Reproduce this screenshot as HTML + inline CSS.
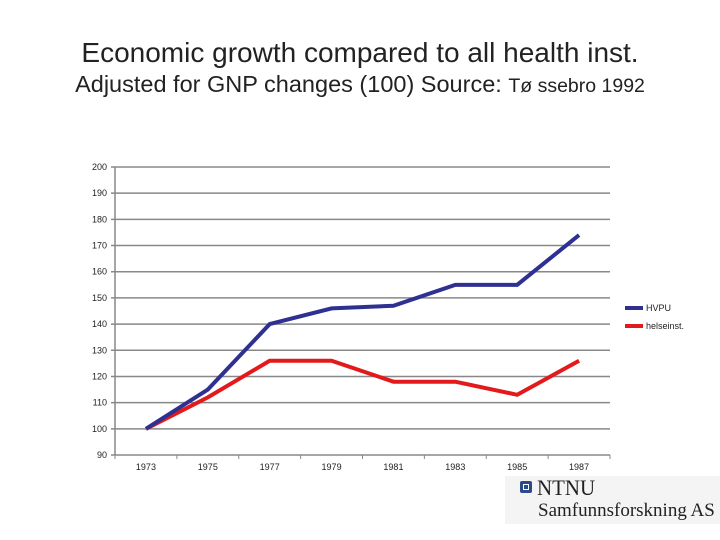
<!DOCTYPE html>
<html><head><meta charset="utf-8"><style>
body{margin:0;width:720px;height:540px;background:#fff;overflow:hidden;font-family:"Liberation Sans",sans-serif;position:relative}
.t{position:absolute;left:0;width:720px;text-align:center;color:#222}
</style></head><body>
<div class="t" style="top:37px;font-size:28px">Economic growth compared to all health inst.</div>
<div class="t" style="top:71px;font-size:23.5px">Adjusted for GNP changes (100) Source: <span style="font-size:19.5px">Tø ssebro 1992</span></div>
<svg id="c" width="720" height="540" style="position:absolute;left:0;top:0"></svg>
<div style="position:absolute;left:505px;top:476px;width:215px;height:48px;background:#f4f4f4">
<div style="position:absolute;left:15px;top:5px;width:12px;height:12px;background:#2a4a8a;border-radius:2px"><div style="position:absolute;left:3px;top:3px;width:4px;height:4px;border:1px solid #fff"></div></div>
<div style="position:absolute;left:32px;top:-1px;font-family:'Liberation Serif',serif;font-size:22px;color:#222;transform:scaleX(0.95);transform-origin:left">NTNU</div>
<div style="position:absolute;left:33px;top:24px;font-family:'Liberation Serif',serif;font-size:19px;color:#222">Samfunnsforskning AS</div>
</div>
<script>
const categories=["1973","1975","1977","1979","1981","1983","1985","1987"];
const hvpu=[100,115,140,146,147,155,155,174];
const helse=[100,112,126,126,118,118,113,126];
const yTicks=[90,100,110,120,130,140,150,160,170,180,190,200];
const NS="http://www.w3.org/2000/svg",svg=document.getElementById('c');
const L=115,R=610,T=167,B=455,yMin=90,yMax=200;
const y=v=>B-(v-yMin)/(yMax-yMin)*(B-T);
const bw=(R-L)/categories.length;
const x=i=>L+bw*(i+0.5);
function mk(t,a){const e=document.createElementNS(NS,t);for(const k in a)e.setAttribute(k,a[k]);svg.appendChild(e);return e;}
yTicks.forEach(v=>{
 const g=mk('line',{x1:L-4,x2:R,y1:y(v),y2:y(v),stroke:'#888','stroke-width':1.5});
 
 
 const t=mk('text',{x:L-8,y:y(v)+3,'text-anchor':'end','font-size':9,fill:'#222'});t.textContent=v;
 
 
});
const ax=mk('line',{x1:L,x2:L,y1:T,y2:B,stroke:'#888','stroke-width':1.5});


for(let i=0;i<=categories.length;i++){const k=mk('line',{x1:L+bw*i,x2:L+bw*i,y1:B,y2:B+4,stroke:'#888'});
 
 }
categories.forEach((c,i)=>{const t=mk('text',{x:x(i),y:B+15,'text-anchor':'middle','font-size':9,fill:'#222'});t.textContent=c;
 
 });
function series(d,col,name){const p=mk('polyline',{points:d.map((v,i)=>x(i)+','+y(v)).join(' '),fill:'none',stroke:col,'stroke-width':4,'stroke-linejoin':'miter'});
 
 }
series(helse,'#e31a1c','helseinst-line');
series(hvpu,'#2e3192','hvpu-line');
[['HVPU','#2e3192',308],['helseinst.','#e31a1c',326]].forEach(([n,c,yy])=>{
 const l=mk('line',{x1:625,x2:643,y1:yy,y2:yy,stroke:c,'stroke-width':4});
 
 
 const t=mk('text',{x:646,y:yy+3,'font-size':9,fill:'#222'});t.textContent=n;
 
 
});
</script>
</body></html>
